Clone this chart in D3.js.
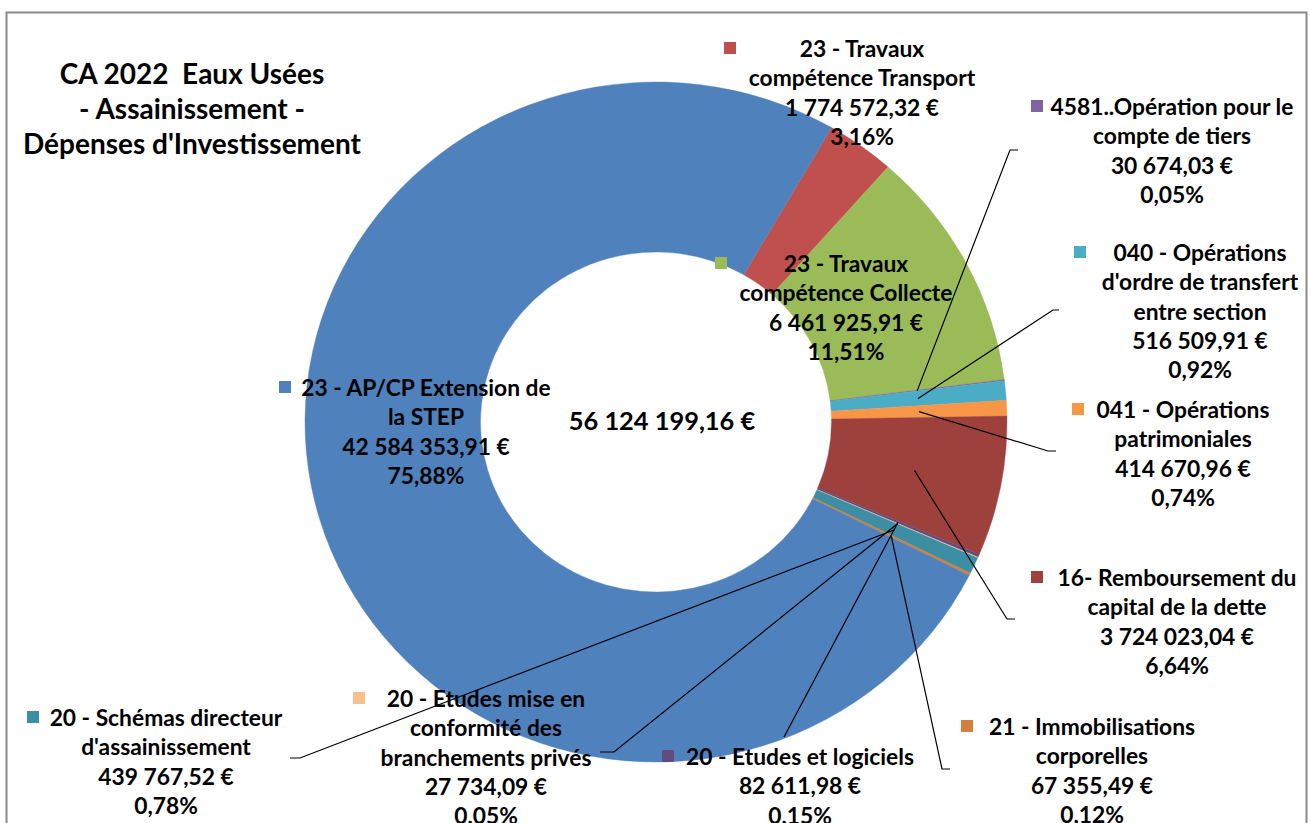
<!DOCTYPE html>
<html>
<head>
<meta charset="utf-8">
<script src="https://cdn.jsdelivr.net/npm/d3@7"></script>
<style>
  html, body { margin: 0; padding: 0; background: #ffffff; }
  svg { display: block; }
  text { font-family: Lato, "Open Sans", sans-serif; font-weight: 700; fill: #000; white-space: pre; }
</style>
</head>
<body>
<svg id="chart" width="1310" height="823"></svg>
<script>
// ---------- DATA ----------
const titleLines = ["CA 2022  Eaux Usées", "- Assainissement -", "Dépenses d'Investissement"];

const categories = [
  "23 - Travaux compétence Transport",
  "23 - Travaux compétence Collecte",
  "4581..Opération pour le compte de tiers",
  "040 - Opérations d'ordre de transfert entre section",
  "041 - Opérations patrimoniales",
  "16- Remboursement du capital de la dette",
  "20 - Etudes et logiciels",
  "20 - Etudes mise en conformité des branchements privés",
  "20 - Schémas directeur d'assainissement",
  "21 - Immobilisations corporelles",
  "23 - AP/CP Extension de la STEP"
];

const values = [
  1774572.32,
  6461925.91,
  30674.03,
  516509.91,
  414670.96,
  3724023.04,
  82611.98,
  27734.09,
  439767.52,
  67355.49,
  42584353.91
];

const nameLines = [
  ["23 - Travaux", "compétence Transport"],
  ["23 - Travaux", "compétence Collecte"],
  ["4581..Opération pour le", "compte de tiers"],
  ["040 - Opérations", "d'ordre de transfert", "entre section"],
  ["041 - Opérations", "patrimoniales"],
  ["16- Remboursement du", "capital de la dette"],
  ["20 - Etudes et logiciels"],
  ["20 - Etudes mise en", "conformité des", "branchements privés"],
  ["20 - Schémas directeur", "d'assainissement"],
  ["21 - Immobilisations", "corporelles"],
  ["23 - AP/CP Extension de", "la STEP"]
];

const colors = [
  "#C0504D", "#9BBB59", "#8064A2", "#4BACC6", "#F79646",
  "#9E403C", "#624C7F", "#F9C08F", "#3B8EA3", "#D47F3B", "#4F81BD"
];

// ---------- LAYOUT ----------
const cx = 656, cy = 422, rx = 351, ry = 340;
const holeRatio = 0.5;
const startDeg = 30;
const lineH = 29.3;
const labelFont = 22.8;

// label block positions: centre x, first line y, marker centre x, leader bend points
const labelLayout = [
  { x: 862,  y: 48,  mx: 730,  lead: null },
  { x: 846,  y: 263, mx: 721,  lead: null },
  { x: 1172, y: 106, mx: 1037, lead: [[1010, 150], [1018, 150]] },
  { x: 1200, y: 252, mx: 1080, lead: [[1053, 310], [1059, 310]] },
  { x: 1183, y: 409, mx: 1078, lead: [[1048, 451], [1056, 451]] },
  { x: 1177, y: 577, mx: 1037, lead: [[1007, 619], [1015, 619]] },
  { x: 800,  y: 756, mx: 668,  lead: [[784, 737]] },
  { x: 486,  y: 698, mx: 359,  lead: [[614, 752], [600, 752]] },
  { x: 166,  y: 717, mx: 33,   lead: [[300, 758], [290, 758]] },
  { x: 1092, y: 726, mx: 967,  lead: [[942, 769], [950, 769]] },
  { x: 426,  y: 387, mx: 285,  lead: null }
];

// ---------- FORMAT ----------
const fr = d3.formatLocale({ decimal: ",", thousands: " ", grouping: [3], currency: ["", " €"] });
const fmtMoney = v => fr.format(",.2f")(v) + " €";
const fmtPct = p => fr.format(".2f")(p) + "%";

const total = d3.sum(values);
const data = categories.map((c, i) => ({ i, name: c, value: values[i] }));

const svg = d3.select("#chart");

// frame
svg.append("rect")
  .attr("x", 6.5).attr("y", 12.5)
  .attr("width", 1300).attr("height", 900)
  .attr("fill", "#fff")
  .attr("stroke", "#8a8a8a")
  .attr("stroke-width", 2);

// ---------- DONUT ----------
const color = d3.scaleOrdinal().domain(d3.range(categories.length)).range(colors);

const pie = d3.pie()
  .value(d => d.value)
  .sort(null)
  .startAngle(startDeg * Math.PI / 180)
  .endAngle(startDeg * Math.PI / 180 + 2 * Math.PI);

const arcs = pie(data);

const arc = d3.arc()
  .innerRadius(rx * holeRatio)
  .outerRadius(rx);

const g = svg.append("g")
  .attr("transform", `translate(${cx},${cy}) scale(1,${ry / rx})`);

g.selectAll("path.slice")
  .data(arcs)
  .join("path")
  .attr("class", "slice")
  .attr("d", arc)
  .attr("fill", d => color(d.data.i))
  .attr("stroke", d => color(d.data.i))
  .attr("stroke-width", 0.4);

// ---------- LEADER LINES ----------
const lineGen = d3.line();
arcs.forEach(a => {
  const L = labelLayout[a.data.i];
  if (!L.lead) return;
  const c = arc.centroid(a);
  const p0 = [cx + c[0], cy + c[1] * ry / rx];
  svg.append("path")
    .attr("d", lineGen([p0, ...L.lead]))
    .attr("fill", "none")
    .attr("stroke", "#000")
    .attr("stroke-width", 1.2);
});

// ---------- LABELS ----------
arcs.forEach(a => {
  const i = a.data.i;
  const L = labelLayout[i];
  const lines = [...nameLines[i], fmtMoney(values[i]), fmtPct(values[i] / total * 100)];
  const lg = svg.append("g");
  lines.forEach((t, k) => {
    lg.append("text")
      .attr("x", L.x)
      .attr("y", L.y + k * lineH)
      .attr("text-anchor", "middle")
      .attr("dominant-baseline", "central")
      .style("font-size", labelFont + "px")
      .text(t);
  });
  lg.append("rect")
    .attr("x", L.mx - 6).attr("y", L.y - 6)
    .attr("width", 12).attr("height", 12)
    .attr("fill", color(i));
});

// centre total
svg.append("text")
  .attr("x", 662).attr("y", 420)
  .attr("text-anchor", "middle")
  .attr("dominant-baseline", "central")
  .style("font-size", "25.4px")
  .text(fmtMoney(total));

// title
titleLines.forEach((t, k) => {
  svg.append("text")
    .attr("x", 192).attr("y", 73 + k * 35)
    .attr("text-anchor", "middle")
    .attr("dominant-baseline", "central")
    .style("font-size", "28px")
    .text(t);
});
</script>
</body>
</html>
